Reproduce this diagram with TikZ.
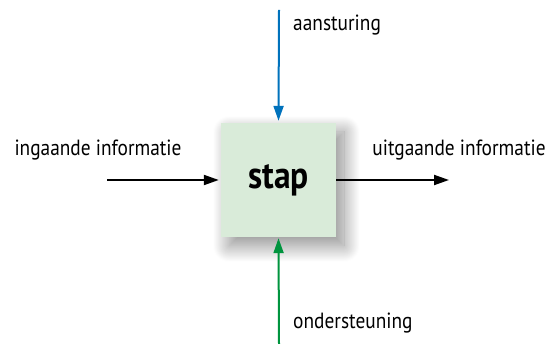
\documentclass[tikz,border=0pt]{standalone}
\usepackage{fontspec}
\setmainfont{PT Sans}[FakeStretch=0.88]
\usetikzlibrary{arrows.meta,shadows.blur}
\definecolor{boxgreen}{RGB}{217,235,217}
\definecolor{ctrlblue}{RGB}{0,114,188}
\definecolor{suppgreen}{RGB}{0,148,62}

\begin{document}
\begin{tikzpicture}[x=1pt,y=1pt,
		flow/.style={line width=2pt,-{Triangle[length=15pt,width=10pt]}},
		label/.style={font=\fontsize{22}{26}\selectfont,inner sep=0pt}]
		\useasboundingbox (0,0) rectangle (553,344);
		\node[fill=boxgreen,minimum width=115pt,minimum height=114pt,inner sep=0pt,
			blur shadow={shadow xshift=8pt,shadow yshift=-9pt,shadow blur radius=16pt,
				shadow blur steps=40,shadow opacity=45},
			font=\fontsize{38}{42}\selectfont\bfseries] (stap) at (278.5,164) {stap};
		\coordinate (top) at (279,334);
		\coordinate (bottom) at (279,0);
		\coordinate (left) at (107,164);
		\coordinate (right) at (449,164);
		\draw[flow,ctrlblue] (top) -- ([yshift=2pt]stap.north);
		\draw[flow,suppgreen] (bottom) -- ([yshift=-1pt]stap.south);
		\draw[flow,black] (left) -- ([xshift=-2pt]stap.west);
		\draw[flow,black] (stap.east) -- (right);
		\node[label,anchor=west] (aansturing) at (293,319) {aansturing};
		\node[label,anchor=west] (ondersteuning) at (293,21) {ondersteuning};
		\node[label] (ingaand) at (98,194) {ingaande informatie};
		\node[label] (uitgaand) at (459,194) {uitgaande informatie};
\end{tikzpicture}
\end{document}
